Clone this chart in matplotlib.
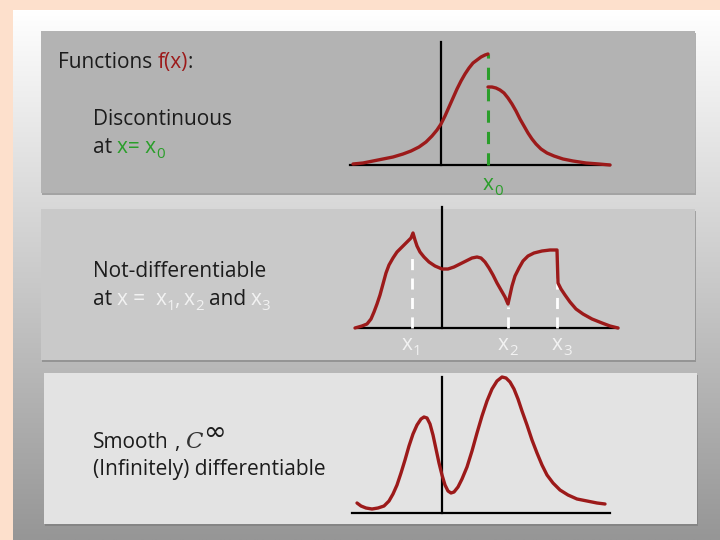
import numpy as np
import matplotlib
matplotlib.use("Agg")
import matplotlib.pyplot as plt
from matplotlib.patches import Rectangle
from matplotlib.transforms import Affine2D

# ---------------- data (function values) ----------------
# panel 1: discontinuous at x0 (x relative to the vertical axis, y above the x-axis)
f1_left_x = [-88, -78, -68, -58, -48, -38, -30, -22, -15, -9, -4, 0, 4, 8, 12, 16,
             20, 24, 28, 32, 36, 40, 44, 47]
f1_left_y = [1, 2, 4, 6, 8, 11, 14, 18, 23, 29, 35, 41, 49, 58, 67, 76,
             84, 91, 97, 102, 105, 108, 110, 111]
f1_right_x = [47, 51, 55, 59, 63, 67, 71, 75, 79, 83, 87, 91, 95, 100, 106, 113,
              122, 132, 145, 158, 169]
f1_right_y = [78, 78, 77, 75, 72, 67, 61, 54, 46, 39, 32, 26, 21, 16, 12, 9,
              6, 4, 2, 1, 0]
x0_pos = 47

# panel 2: not differentiable at x1, x2, x3
f2_x = [-87, -80, -75, -71, -68, -65, -62, -59, -56, -53, -49, -45, -40, -35, -31, -29,
        -27, -25, -22, -18, -13, -7, 0, 6, 12, 18, 24, 30, 35, 39, 43, 47,
        51, 55, 59, 63, 66, 68, 70, 73, 77, 81, 86, 92, 100, 108, 115, 116,
        119, 123, 128, 134, 141, 150, 160, 168, 176]
f2_y = [0, 2, 4, 9, 16, 24, 33, 44, 55, 63, 70, 76, 81, 86, 90, 95,
        88, 82, 76, 71, 66, 62, 59, 59, 61, 64, 67, 70, 71, 70, 66, 60,
        53, 45, 38, 31, 24, 33, 42, 52, 60, 67, 72, 75, 77, 78, 78, 45,
        39, 33, 26, 19, 14, 9, 5, 2, 0]
kinks_x = [-30, 66, 115]
kinks_top = [76, 21, 75]
kink_labels = ["1", "2", "3"]

# panel 3: smooth
f3_x = [-85, -81, -76, -70, -64, -58, -53, -49, -45, -41, -37, -33, -29, -25, -21, -18,
        -15, -12, -9, -6, -3, 0, 3, 6, 9, 12, 16, 20, 25, 30, 35, 40,
        45, 50, 55, 60, 64, 68, 72, 76, 80, 85, 90, 95, 100, 105, 111, 118,
        126, 135, 145, 155, 163]
f3_y = [10, 7, 5, 4, 5, 7, 12, 19, 28, 40, 53, 67, 79, 88, 94, 96,
        95, 89, 78, 64, 50, 38, 28, 22, 20, 21, 26, 34, 46, 62, 80, 97,
        112, 124, 132, 136, 135, 131, 124, 114, 102, 88, 73, 60, 48, 38, 30, 23,
        18, 14, 12, 10, 9]

# ---------------- figure ----------------
FONT = ["Open Sans", "DejaVu Sans"]
FS = 15.0
SUB = 0.72
RED = "#9c1a1a"
GREEN = "#2a9e2a"
TXT = "#1c1c1c"
WHITE = "#f2f2f2"

fig = plt.figure(figsize=(7.2, 5.4), dpi=100)
ax = fig.add_axes([0, 0, 1, 1])
ax.axis("off")

# background
ax.add_patch(Rectangle((0, 0), 720, 540, color="#fde0cc", zorder=0))
g = np.linspace(255, 150, 256)[:, None] * np.ones((1, 2))
rgb = np.dstack([g, g, g]) / 255.0
ax.imshow(rgb, extent=(13, 720, 540, 10), origin="upper", aspect="auto",
          interpolation="bilinear", zorder=1)

# panels
panels = [(41, 31, 654, 162, "#b3b3b3"),
          (41, 209, 654, 151, "#c9c9c9"),
          (44, 373, 653, 151, "#e3e3e3")]
for (px, py, w, h, c) in panels:
    ax.add_patch(Rectangle((px + 1, py + 2), w, h, color="#777777", alpha=0.55, zorder=2, lw=0))
    ax.add_patch(Rectangle((px, py), w, h, color=c, zorder=3, lw=0))

ax.set_xlim(0, 720)
ax.set_ylim(540, 0)


def frame(ox, oy):
    return Affine2D().scale(1, -1).translate(ox, oy) + ax.transData


LW_AX = 1.6
LW_C = 2.4
ckw = dict(color=RED, lw=LW_C, zorder=7, solid_joinstyle="round", solid_capstyle="round")

# panel 1 plot
t1 = frame(441, 165)
ax.plot([-91, 169], [0, 0], color="black", lw=LW_AX, transform=t1, zorder=5)
ax.plot([0, 0], [0, 123], color="black", lw=LW_AX, transform=t1, zorder=5)
ax.plot([x0_pos, x0_pos], [0, 111], color=GREEN, lw=2.2, ls=(0, (4, 3)), transform=t1, zorder=6)
ax.plot(f1_left_x, f1_left_y, transform=t1, **ckw)
ax.plot(f1_right_x, f1_right_y, transform=t1, **ckw)

# panel 2 plot
t2 = frame(442, 328)
ax.plot([-84, 176], [0, 0], color="black", lw=LW_AX, transform=t2, zorder=5)
ax.plot([0, 0], [0, 121], color="black", lw=LW_AX, transform=t2, zorder=5)
for kx, kt in zip(kinks_x, kinks_top):
    ax.plot([kx, kx], [0, kt], color="white", lw=2.0, ls=(0, (4, 3)), transform=t2, zorder=6)
ax.plot(f2_x, f2_y, transform=t2, **ckw)

# panel 3 plot
t3 = frame(442, 513)
ax.plot([-90, 168], [0, 0], color="black", lw=LW_AX, transform=t3, zorder=5)
ax.plot([0, 0], [0, 136], color="black", lw=LW_AX, transform=t3, zorder=5)
ax.plot(f3_x, f3_y, transform=t3, **ckw)

# ---------------- text ----------------
fig.canvas.draw()
renderer = fig.canvas.get_renderer()


def run(x, y, pieces):
    """pieces: (text, color, kind) kind in 'n', 'sub', 'gap'(text = pixels)"""
    for s, c, kind in pieces:
        if kind == "gap":
            x += s
            continue
        if kind == "sub":
            t = ax.text(x, y + 5, s, fontsize=FS * SUB, color=c, family=FONT,
                        va="baseline", ha="left", zorder=10)
        else:
            t = ax.text(x, y, s, fontsize=FS, color=c, family=FONT,
                        va="baseline", ha="left", zorder=10)
        x += t.get_window_extent(renderer).width
    return x


run(58, 68, [("Functions", TXT, "n"), (5, None, "gap"), ("f(x)", RED, "n"), (":", TXT, "n")])
run(93, 125, [("Discontinuous", TXT, "n")])
run(93, 153, [("at", TXT, "n"), (5, None, "gap"), ("x= x", GREEN, "n"), ("0", GREEN, "sub")])

run(93, 277, [("Not-differentiable", TXT, "n")])
run(93, 305, [("at", TXT, "n"), (5, None, "gap"), ("x =", WHITE, "n"), (10, None, "gap"),
              ("x", WHITE, "n"), ("1", WHITE, "sub"), (",", WHITE, "n"), (4, None, "gap"),
              ("x", WHITE, "n"), ("2", WHITE, "sub"), (5, None, "gap"), ("and", TXT, "n"),
              (5, None, "gap"), ("x", WHITE, "n"), ("3", WHITE, "sub")])

xe = run(93, 448, [("Smooth", TXT, "n"), (5, None, "gap"), (",", TXT, "n"), (6, None, "gap")])
ax.text(xe, 448, "C", fontsize=FS * 1.1, style="italic", family=["DejaVu Serif"],
        color="#333333", va="baseline", ha="left", zorder=10)
ax.text(xe + 18, 440, "\u221e", fontsize=FS * 1.3, family=["DejaVu Sans"],
        color=TXT, va="baseline", ha="left", zorder=10)
run(93, 475, [("(Infinitely) differentiable", TXT, "n")])

# axis labels under the plots
run(483, 190, [("x", GREEN, "n"), ("0", GREEN, "sub")])
label_px = [402, 498, 552]
for lx, lab in zip(label_px, kink_labels):
    run(lx, 350, [("x", WHITE, "n"), (lab, WHITE, "sub")])

fig.savefig("out.png", dpi=100)
